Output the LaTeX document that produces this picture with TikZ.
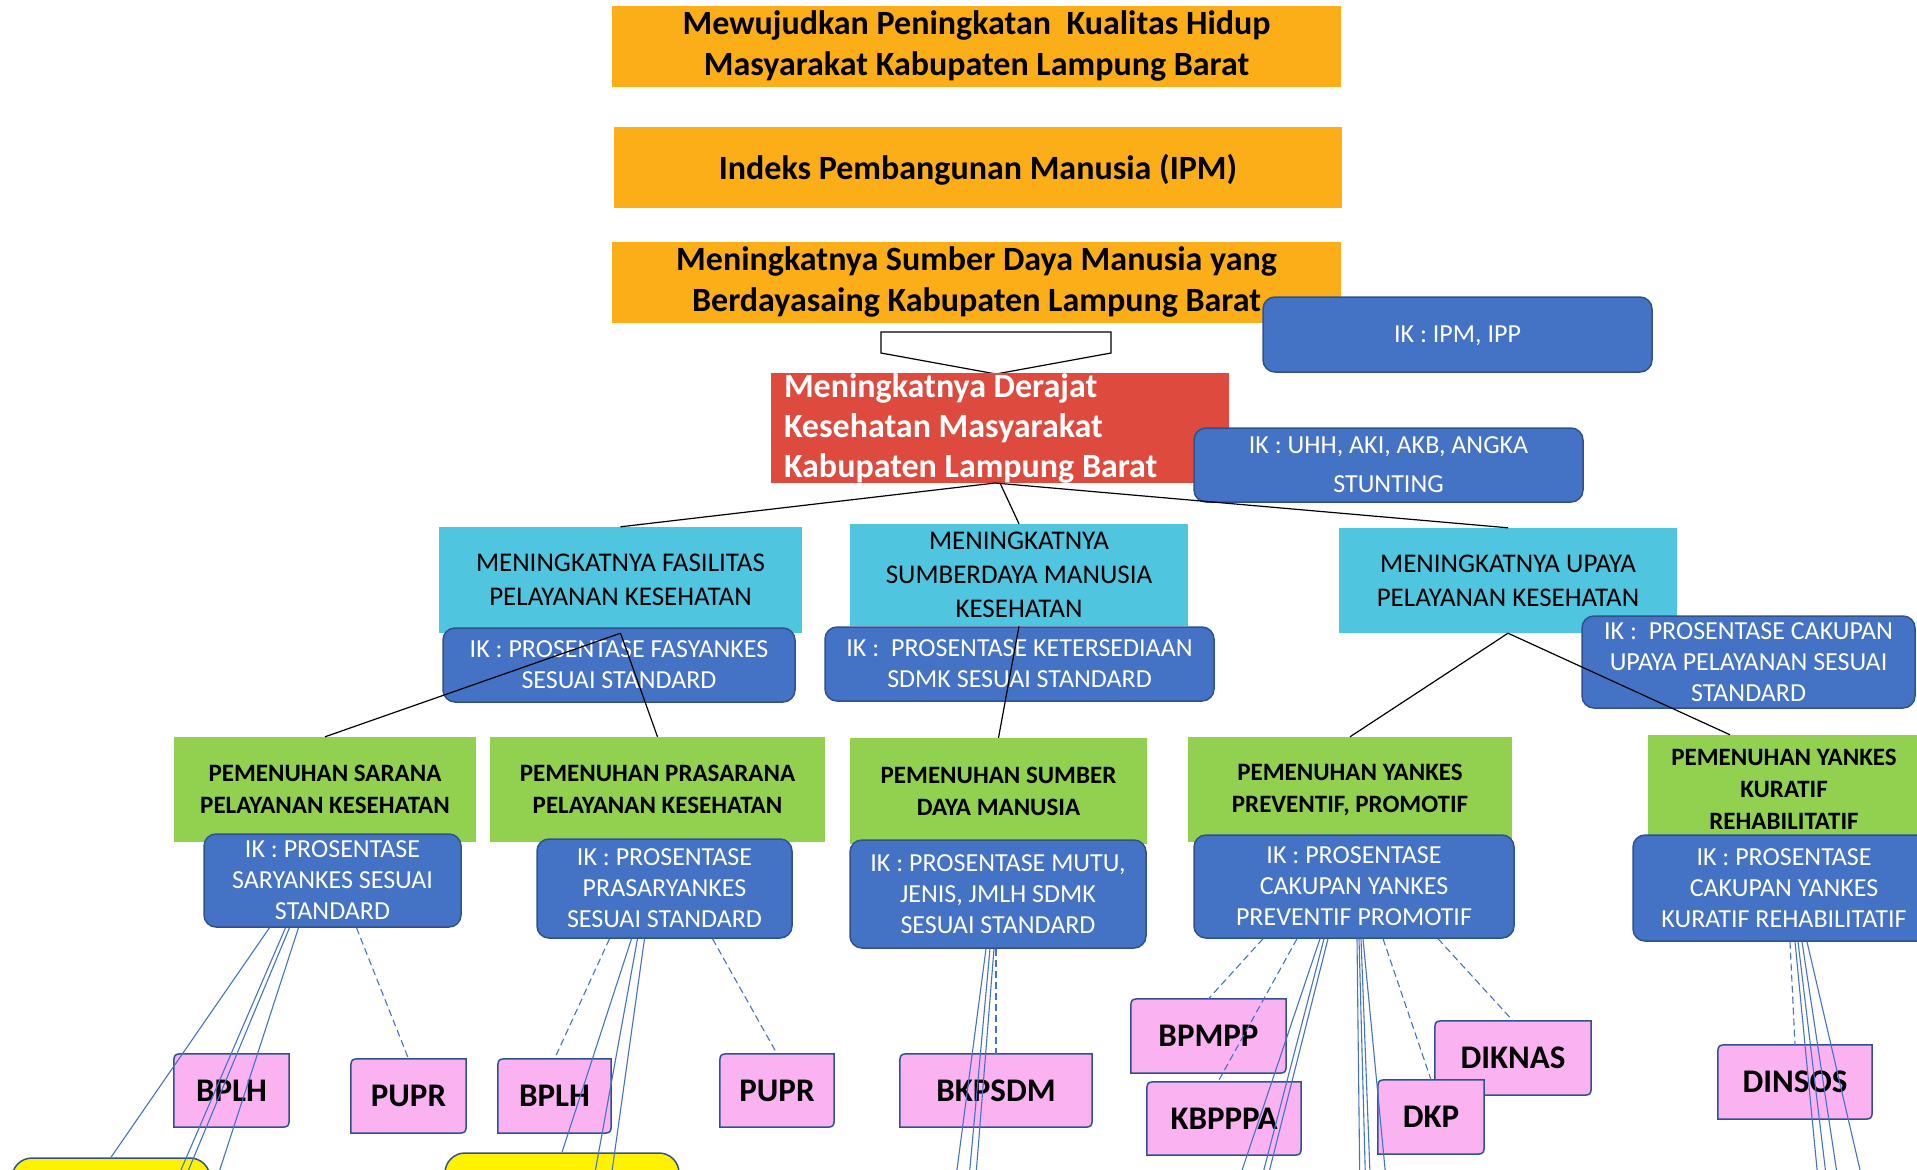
\documentclass[tikz,border=0pt]{standalone}
\usepackage{fontspec}
\setmainfont{Carlito}
\usetikzlibrary{backgrounds}

\definecolor{jingga}{RGB}{251,174,24}
\definecolor{merah}{RGB}{222,75,62}
\definecolor{biru}{RGB}{68,114,196}
\definecolor{birutua}{RGB}{47,82,143}
\definecolor{toska}{RGB}{80,197,224}
\definecolor{hijau}{RGB}{146,208,80}
\definecolor{merahmuda}{RGB}{251,178,241}

\begin{document}
\begin{tikzpicture}[x=1pt, y=-1pt,
        every node/.style={inner sep=0pt, align=center},
        sasaran/.style={fill=jingga, minimum width=729, minimum height=81,
            font=\fontsize{34}{41}\selectfont\bfseries},
        ik/.style={fill=biru, draw=birutua, line width=1.5, rounded corners=12,
            text=white, font=\fontsize{26}{31}\selectfont},
        program/.style={fill=toska, font=\fontsize{27}{34}\selectfont},
        kegiatan/.style={fill=hijau, font=\fontsize{25}{32}\selectfont\bfseries},
        instansi/.style={font=\fontsize{33}{40}\selectfont\bfseries},
        kotak/.style={fill=merahmuda, draw=birutua, line width=1.5},
        kuning/.style={fill=yellow, draw=birutua, line width=1.5, rounded corners=20},
        hubung/.style={draw=black, line width=1.2},
        tautan/.style={draw=biru, line width=1.1},
        putus/.style={tautan, dash pattern=on 7pt off 4pt}]
        \useasboundingbox (0,0) rectangle (1917,1170);

        \node[sasaran] (tujuan) at (976.5,46) {Mewujudkan Peningkatan\ \ Kualitas Hidup\\Masyarakat Kabupaten Lampung Barat};
        \node[sasaran, minimum width=728, text depth=0pt] (ipm) at (978,167) {Indeks Pembangunan Manusia (IPM)};
        \node[sasaran] (sdmDaya) at (976.5,282) {Meningkatnya Sumber Daya Manusia yang\\Berdayasaing Kabupaten Lampung Barat};
        \draw [fill=white, line width=1.2] (881,332) -- (1111,332) -- (1111,353) -- (996,374) -- (881,353) -- cycle;
        \node[fill=merah, minimum width=458, minimum height=107, text width=432, align=flush left,
            text=white, font=\fontsize{34}{40}\selectfont\bfseries] (derajat) at (1000,428)
            {Meningkatnya Derajat\\Kesehatan Masyarakat\\Kabupaten Lampung Barat};
        \node[ik, minimum width=389, minimum height=75, text depth=0pt] (ikIpm) at (1457.5,334.5) {IK : IPM, IPP};
        \node[ik, minimum width=389, minimum height=74, font=\fontsize{26}{39}\selectfont] (ikUhh) at (1388.5,465) {IK : UHH, AKI, AKB, ANGKA\\STUNTING};

        \node[program, minimum width=363, minimum height=106] (fasilitas) at (620.5,580) {MENINGKATNYA FASILITAS\\PELAYANAN KESEHATAN};
        \node[program, minimum width=338, minimum height=102] (sdmKes) at (1019,575) {MENINGKATNYA\\SUMBERDAYA MANUSIA\\KESEHATAN};
        \node[program, minimum width=338, minimum height=105] (upaya) at (1508,580.5) {MENINGKATNYA UPAYA\\PELAYANAN KESEHATAN};
        \node[ik, minimum width=352, minimum height=74] (ikFasyankes) at (619,665) {IK : PROSENTASE FASYANKES\\SESUAI STANDARD};
        \node[ik, minimum width=389, minimum height=74] (ikSdmk) at (1019.5,664) {IK :\ \ PROSENTASE KETERSEDIAAN\\SDMK SESUAI STANDARD};
        \node[ik, minimum width=333, minimum height=92] (ikUpaya) at (1748.5,662) {IK :\ \ PROSENTASE CAKUPAN\\UPAYA PELAYANAN SESUAI\\STANDARD};

        \node[kegiatan, minimum width=302, minimum height=105] (sarana) at (325,789.5) {PEMENUHAN SARANA\\PELAYANAN KESEHATAN};
        \node[kegiatan, minimum width=335, minimum height=105] (prasarana) at (657.5,789.5) {PEMENUHAN PRASARANA\\PELAYANAN KESEHATAN};
        \node[kegiatan, minimum width=297, minimum height=106] (sdm) at (998.5,791) {PEMENUHAN SUMBER\\DAYA MANUSIA};
        \node[kegiatan, minimum width=324, minimum height=105] (promotif) at (1350,789.5) {PEMENUHAN YANKES\\PREVENTIF, PROMOTIF};
        \node[kegiatan, minimum width=272, minimum height=109] (kuratif) at (1784,789.5) {PEMENUHAN YANKES\\KURATIF\\REHABILITATIF};
        \node[ik, minimum width=257, minimum height=93] (ikSarana) at (332.5,880.5) {IK : PROSENTASE\\SARYANKES SESUAI\\STANDARD};
        \node[ik, minimum width=255, minimum height=99] (ikPrasarana) at (664.5,888.5) {IK : PROSENTASE\\PRASARYANKES\\SESUAI STANDARD};
        \node[ik, minimum width=296, minimum height=108] (ikSdm) at (998,894) {IK : PROSENTASE MUTU,\\JENIS, JMLH SDMK\\SESUAI STANDARD};
        \node[ik, minimum width=320, minimum height=103] (ikPromotif) at (1354,886.5) {IK : PROSENTASE\\CAKUPAN YANKES\\PREVENTIF PROMOTIF};
        \node[ik, minimum width=302, minimum height=106] (ikKuratif) at (1784,888) {IK : PROSENTASE\\CAKUPAN YANKES\\KURATIF REHABILITATIF};

        \node[kuning, minimum width=198, minimum height=70] (kuningA) at (111,1193) {};
        \node[kuning, minimum width=234, minimum height=70] (kuningB) at (562,1188) {};

        \node[instansi, minimum width=115, minimum height=73] (bplhA) at (231.5,1090.5) {BPLH};
        \node[instansi, minimum width=115, minimum height=74] (puprA) at (408.5,1096) {PUPR};
        \node[instansi, minimum width=113, minimum height=74] (bplhB) at (554.5,1096) {BPLH};
        \node[instansi, minimum width=114, minimum height=73] (puprB) at (777,1090.5) {PUPR};
        \node[instansi, minimum width=192, minimum height=73] (bkpsdm) at (996,1090.5) {BKPSDM};
        \node[instansi, minimum width=155, minimum height=74] (bpmpp) at (1208.5,1036) {BPMPP};
        \node[instansi, minimum width=154, minimum height=73] (kbpppa) at (1224,1118.5) {KBPPPA};
        \node[instansi, minimum width=156, minimum height=74] (diknas) at (1513,1058) {DIKNAS};
        \node[instansi, minimum width=106, minimum height=74] (dkp) at (1431,1117) {DKP};
        \node[instansi, minimum width=154, minimum height=74] (dinsos) at (1795,1082) {DINSOS};
        \begin{scope}[on background layer]
            \foreach \n in {bplhA,puprA,bplhB,puprB,bkpsdm,bpmpp,kbpppa,diknas,dkp,dinsos}
                \draw[kotak] (\n.south west) -- ([yshift=-12pt]\n.north west) .. controls (\n.north west) .. ([xshift=12pt]\n.north west)
                    -- (\n.north east) -- ([yshift=12pt]\n.south east) .. controls (\n.south east) .. ([xshift=-12pt]\n.south east) -- cycle;
        \end{scope}

        \draw[hubung] ([xshift=-5]derajat.south) -- (fasilitas.north);
        \draw[hubung] (derajat.south) -- (sdmKes.north);
        \draw[hubung] ([xshift=-5]derajat.south) -- (upaya.north);
        \draw[hubung] (fasilitas.south) -- (sarana.north);
        \draw[hubung] (fasilitas.south) -- (prasarana.north);
        \draw[hubung] (sdmKes.south) -- (sdm.north);
        \draw[hubung] (upaya.south) -- (promotif.north);
        \draw[hubung] (upaya.south) -- ([xshift=-54]kuratif.north);

        \foreach \n/\x in {akhirA/168, akhirB/176, akhirC/210, akhirD/590, akhirE/608, akhirF/953, akhirG/967,
                akhirH/974, akhirI/1232, akhirJ/1256, akhirK/1262, akhirL/1360, akhirM/1366, akhirN/1371,
                akhirO/1388, akhirP/1820, akhirQ/1829, akhirR/1841, akhirS/1867}
            \coordinate (\n) at (\x,1200);

        \foreach \awal/\akhir in {-63/kuningA.north, -47/akhirA, -43/akhirB, -34/akhirC}
            \draw[tautan] ([xshift=\awal]ikSarana.south) -- (\akhir);
        \draw[putus] ([xshift=24]ikSarana.south) -- (puprA.north);

        \foreach \awal/\akhir in {-33/kuningB.north, -27/akhirD, -20/akhirE}
            \draw[tautan] ([xshift=\awal]ikPrasarana.south) -- (\akhir);
        \draw[putus] ([xshift=-55]ikPrasarana.south) -- (bplhB.north);
        \draw[putus] ([xshift=48]ikPrasarana.south) -- (puprB.north);

        \foreach \awal/\akhir in {-12/akhirF, -8/akhirG, -4/akhirH}
            \draw[tautan] ([xshift=\awal]ikSdm.south) -- (\akhir);
        \draw[putus] ([xshift=-2]ikSdm.south) -- (bkpsdm.north);

        \foreach \awal/\akhir in {-34/akhirI, -30/akhirJ, -26/akhirK, 3/akhirL, 5/akhirM, 7/akhirN, 9/akhirO}
            \draw[tautan] ([xshift=\awal]ikPromotif.south) -- (\akhir);
        \foreach \awal/\akhir in {-91/bpmpp.north, 29/dkp.north, 84/diknas.north}
            \draw[putus] ([xshift=\awal]ikPromotif.south) -- (\akhir);
        \draw[putus] ([xshift=-57]ikPromotif.south) -- ([xshift=-6]kbpppa.north);

        \foreach \awal/\akhir in {11/akhirP, 14/akhirQ, 18/akhirR, 23/akhirS}
            \draw[tautan] ([xshift=\awal]ikKuratif.south) -- (\akhir);
        \draw[putus] ([xshift=6]ikKuratif.south) -- (dinsos.north);
    \end{tikzpicture}
\end{document}
